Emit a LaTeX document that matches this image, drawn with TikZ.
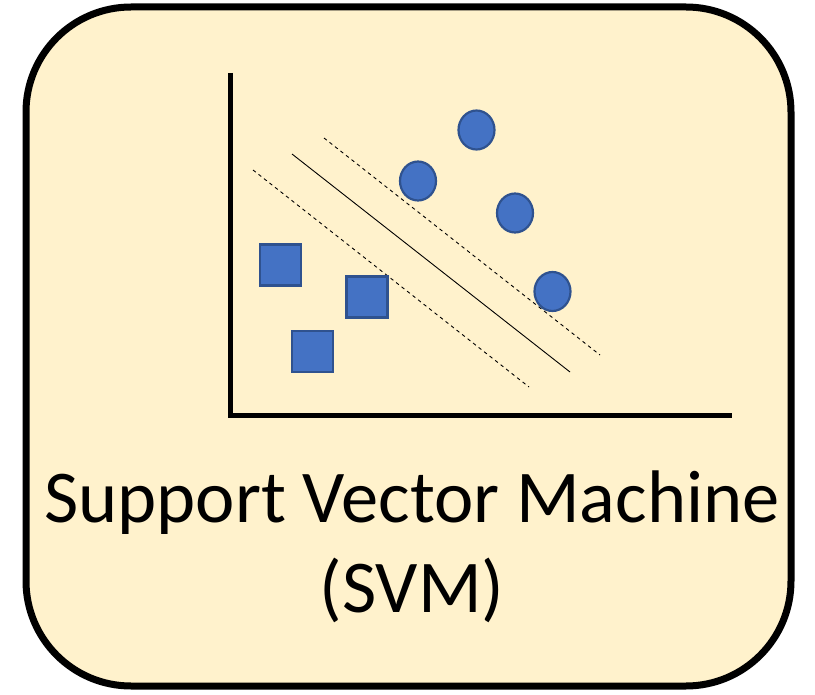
\documentclass[tikz,border=0pt]{standalone}
\usepackage{fontspec}
\setmainfont{Carlito}
\usetikzlibrary{shapes.geometric}

\definecolor{cardfill}{HTML}{FFF2CC}
\definecolor{ptfill}{HTML}{4472C4}
\definecolor{ptedge}{HTML}{2F528F}

\tikzset{
    circpt/.style={ellipse, draw=ptedge, fill=ptfill, line width=2.2,
        minimum width=36, minimum height=39, inner sep=0},
    sqpt/.style={rectangle, draw=ptedge, fill=ptfill, line width=2.2,
        minimum size=41, inner sep=0},
}

\begin{document}
\begin{tikzpicture}[x=1pt, y=-1pt]
        \useasboundingbox (0, 0) rectangle (815, 695);
        \draw[line width=7, fill=cardfill, rounded corners=105] (26, 7) rectangle (791, 686);

        % axes
        \draw[line width=5] (230.5, 73) -- (230.5, 416) -- (732, 416);

        % margin and separating line
        \draw[line width=0.9] (292, 154) -- (570, 372);
        \draw[line width=0.9, dash pattern=on 3.5 off 3.5] (324, 138) -- (600, 355);
        \draw[line width=0.9, dash pattern=on 3.5 off 3.5] (253, 170) -- (529, 387);

        % class A
        \node[sqpt] (sq1) at (280.5, 265) {};
        \node[sqpt] (sq2) at (367, 297) {};
        \node[sqpt] (sq3) at (312.5, 351.5) {};

        % class B
        \node[circpt] (c1) at (476.5, 130) {};
        \node[circpt] (c2) at (418, 181) {};
        \node[circpt] (c3) at (515, 213) {};
        \node[circpt] (c4) at (552.5, 291.5) {};

        \node[align=center, font=\fontsize{74.5}{90}\selectfont, anchor=base] (title)
            at (412, 612) {Support Vector Machine\\(SVM)};
    \end{tikzpicture}
\end{document}
